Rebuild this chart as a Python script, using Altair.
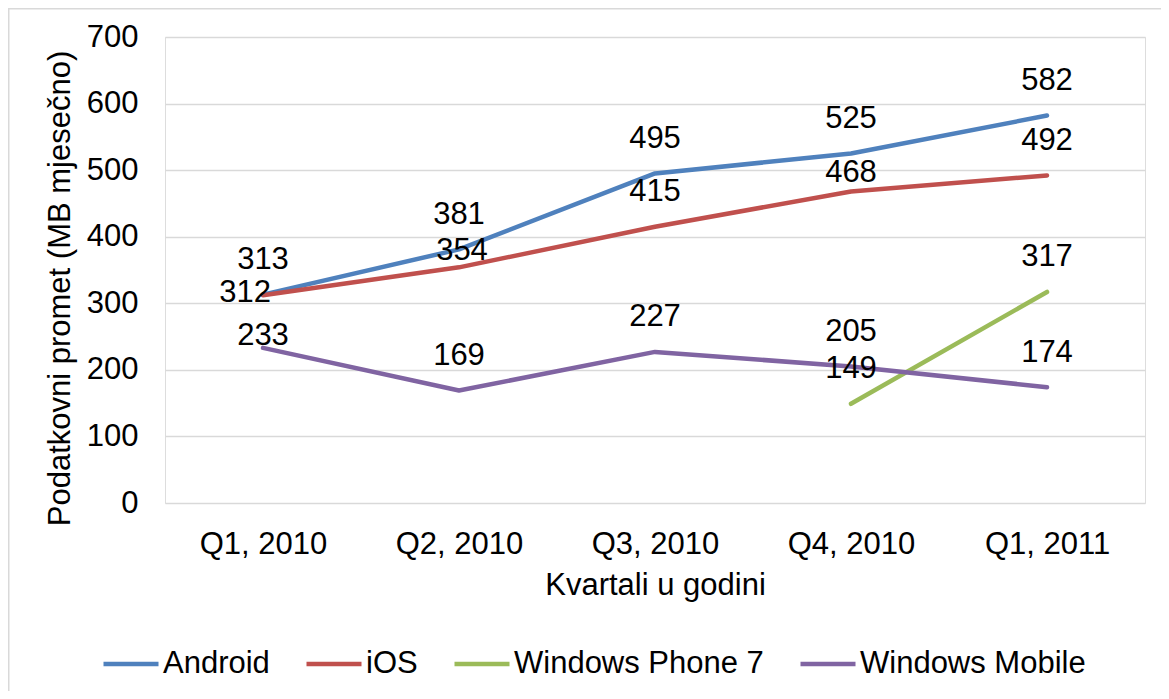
import altair as alt
import pandas as pd

quarters = ["Q1, 2010", "Q2, 2010", "Q3, 2010", "Q4, 2010", "Q1, 2011"]
series_names = ["Android", "iOS", "Windows Phone 7", "Windows Mobile"]
android = [313, 381, 495, 525, 582]
ios = [312, 354, 415, 468, 492]
wp7 = [None, None, None, 149, 317]
wm = [233, 169, 227, 205, 174]
colors = ["#4F81BD", "#C0504D", "#9BBB59", "#8064A2"]

rows = []
for name, vals in zip(series_names, [android, ios, wp7, wm]):
    for q, v in zip(quarters, vals):
        if v is not None:
            rows.append({"quarter": q, "series": name, "value": v})
df = pd.DataFrame(rows)

FONT = "Liberation Sans"
FS = 31

x_enc = alt.X("quarter:N", sort=quarters, scale=alt.Scale(type="point", padding=0.5),
              axis=alt.Axis(title="Kvartali u godini", labelAngle=0, ticks=False, domain=False,
                            labelPadding=26, labelFontSize=FS, labelFont=FONT, labelColor="#000000",
                            titleFontSize=FS, titleFont=FONT, titleFontWeight="normal",
                            titleColor="#000000", titleBaseline="alphabetic", titleY=91, titleX=490,
                            grid=False))
y_enc = alt.Y("value:Q", scale=alt.Scale(domain=[0, 700], nice=False),
              axis=alt.Axis(title="Podatkovni promet (MB mjesečno)", values=list(range(0, 701, 100)),
                            ticks=False, domain=False, labelPadding=27, labelFontSize=FS, labelFont=FONT,
                            labelColor="#000000", gridColor="#D9D9D9", gridWidth=1.5,
                            titleFontSize=FS, titleFont=FONT, titleFontWeight="normal",
                            titleColor="#000000", titleX=-105, titleY=251, titleBaseline="middle",
                            titleAngle=-90, titleAlign="center"))

base = alt.Chart(df)

border = alt.Chart(pd.DataFrame({"a": [0]})).mark_rect(
    fill=None, stroke="#D9D9D9", strokeWidth=1.5
).encode(x=alt.value(-156.25), x2=alt.value(1200), y=alt.value(-28.25), y2=alt.value(900))

lines = base.mark_line(strokeWidth=4.5, strokeCap="round", strokeJoin="round").encode(
    x=x_enc, y=y_enc,
    color=alt.Color("series:N", sort=series_names,
                    scale=alt.Scale(domain=series_names, range=colors),
                    legend=alt.Legend(title=None, orient="none", direction="horizontal",
                                      legendX=-64, legendY=597, symbolType="stroke",
                                      symbolSize=3025, symbolStrokeWidth=4.5,
                                      labelFontSize=FS, labelFont=FONT, labelColor="#000000",
                                      labelOffset=2, columnPadding=27, padding=0,
                                      labelLimit=1000, gridAlign="none")),
    detail="series:N",
)

is_312 = (alt.datum.series == "iOS") & (alt.datum.quarter == "Q1, 2010")
is_354 = (alt.datum.series == "iOS") & (alt.datum.quarter == "Q2, 2010")
is_468 = (alt.datum.series == "iOS") & (alt.datum.quarter == "Q4, 2010")
is_233 = (alt.datum.series == "Windows Mobile") & (alt.datum.quarter == "Q1, 2010")
special = is_312 | is_354 | is_468 | is_233

def txt(filt, **kw):
    return base.transform_filter(filt).mark_text(
        font=FONT, fontSize=FS, color="#000000", baseline="alphabetic", **kw
    ).encode(x=alt.X("quarter:N", sort=quarters), y=alt.Y("value:Q"), text="value:Q")

labels_default = txt(~special, dy=-25.5)
label_312 = txt(is_312, align="right", dx=8, dy=7)
label_354 = txt(is_354, dx=3, dy=-7)
label_468 = txt(is_468, dy=-9)
label_233 = txt(is_233, dy=-3)

chart = alt.layer(border, lines, labels_default, label_312, label_354, label_468, label_233).properties(
    width=980, height=466,
    autosize=alt.AutoSizeParams(type="none"),
    padding={"left": 157, "top": 29, "right": 16, "bottom": 188},
).configure_view(stroke=None).configure(background="#FFFFFF")

chart.save("out.html", embed_options={"renderer": "svg", "actions": False})
